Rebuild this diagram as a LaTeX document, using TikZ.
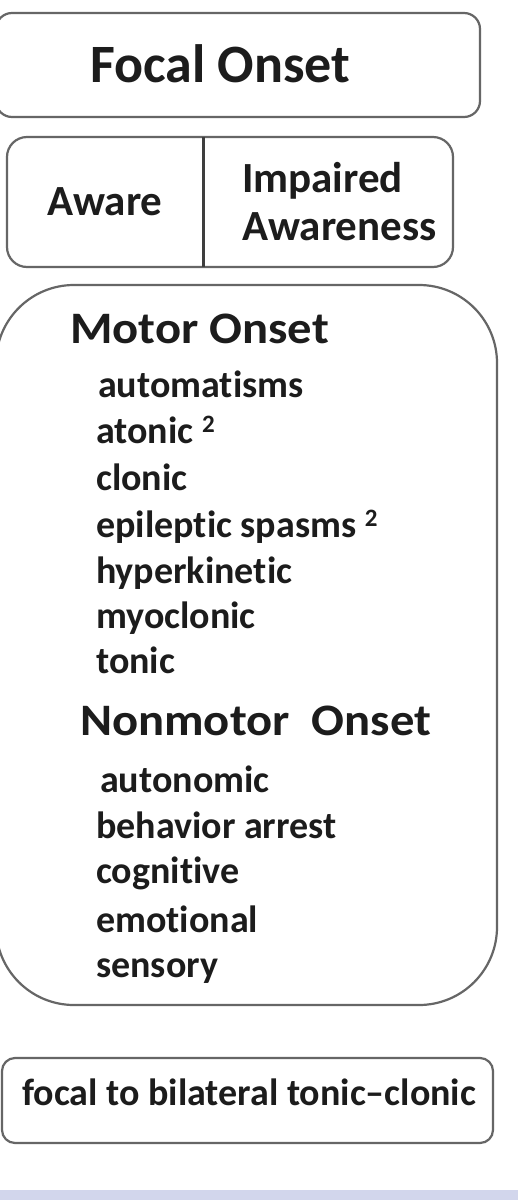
\documentclass[tikz,border=0pt]{standalone}
\usepackage{fontspec}
\setmainfont{Carlito}[Ligatures=NoCommon]
\newfontfamily\headfont{Carlito}[Ligatures=NoCommon,FakeStretch=1.08]
\definecolor{boxgray}{HTML}{666666}
\definecolor{textgray}{HTML}{1C1C1C}
\definecolor{stripblue}{HTML}{D2D6EC}
\newcommand{\supnum}[1]{\raisebox{11pt}{\fontsize{25}{25}\selectfont #1}}

\begin{document}
\begin{tikzpicture}[x=1pt,y=-1pt,
        box/.style={draw=boxgray,line width=2.2pt},
        txt/.style={anchor=base west,inner sep=0pt,text=textgray,font=\bfseries\fontsize{#1}{#1}\selectfont},
        head/.style={txt=45,font=\headfont\bfseries\fontsize{45}{45}\selectfont},
        item/.style={txt=38}]
        \useasboundingbox (0,0) rectangle (518,1200);
        \clip (0,0) rectangle (518,1200);
        \fill[white] (0,0) rectangle (518,1200);
        \fill[stripblue] (0,1190) rectangle (518,1200);
        % boxes
        \draw[box,rounded corners=16pt] (-4,13) rectangle (480,117);
        \draw[box,rounded corners=20pt] (7,137) rectangle (453,267);
        \draw[line width=3pt,textgray!85] (203,137) -- (203,267);
        \draw[box,rounded corners=78pt] (-4,285) rectangle (497,1005);
        \draw[box,rounded corners=13pt] (2,1058) rectangle (493,1143);
        % labels
        \node[txt=54] (focal) at (90,82) {Focal Onset};
        \node[txt=43] (aware) at (47,215) {Aware};
        \node[txt=43] (impaired) at (242,192) {Impaired};
        \node[txt=43] (awareness) at (242,240) {Awareness};
        \node[head] (motor) at (70,343) {Motor Onset};
        \foreach \x/\y/\t [count=\i] in {98/397/automatisms, 96/443/atonic \supnum{2},
                96/490/clonic, 96/537/epileptic spasms \supnum{2}, 96/583/hyperkinetic,
                96/628/myoclonic, 96/673/tonic}
            \node[item] (m\i) at (\x,\y) {\t};
        \node[head] (nonmotor) at (80,735) {Nonmotor\ \ Onset};
        \foreach \x/\y/\t [count=\i] in {100/792/autonomic, 96/838/behavior arrest,
                96/883/cognitive, 96/932/emotional, 96/977/sensory}
            \node[item] (n\i) at (\x,\y) {\t};
        \node[txt=38] (bilateral) at (22,1105) {focal to bilateral tonic–clonic};
    \end{tikzpicture}
\end{document}
